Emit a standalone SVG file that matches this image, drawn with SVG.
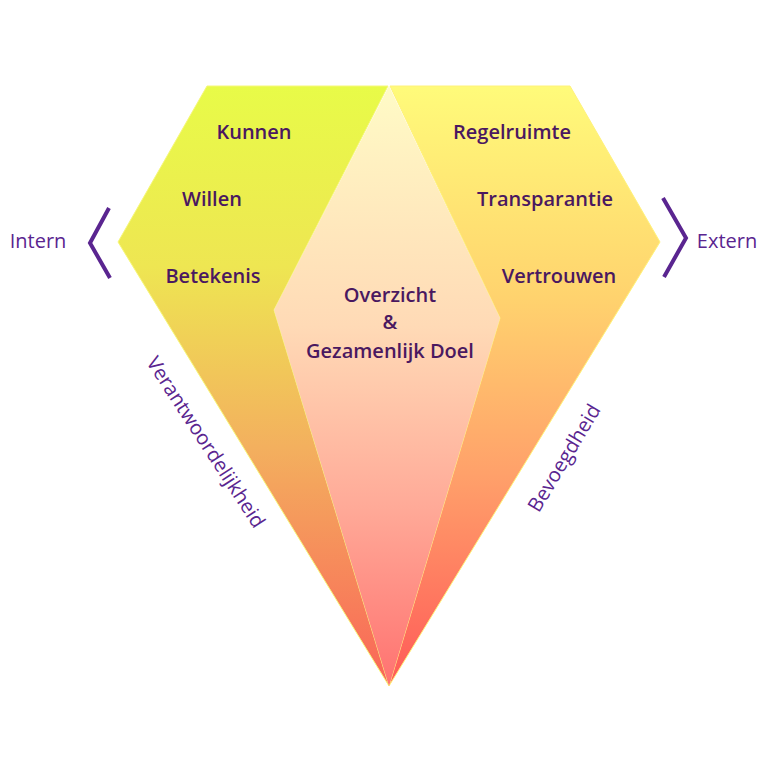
<svg xmlns="http://www.w3.org/2000/svg" width="768" height="768" viewBox="0 0 768 768">
<defs>
<linearGradient id="gl" x1="0" y1="86" x2="0" y2="686" gradientUnits="userSpaceOnUse">
<stop offset="0" stop-color="#e8fb48"/>
<stop offset="0.3" stop-color="#eee652"/>
<stop offset="0.6" stop-color="#f3b05e"/>
<stop offset="1" stop-color="#fa6458"/>
</linearGradient>
<linearGradient id="gr" x1="0" y1="86" x2="0" y2="686" gradientUnits="userSpaceOnUse">
<stop offset="0" stop-color="#fffb7a"/>
<stop offset="0.35" stop-color="#ffd36e"/>
<stop offset="0.65" stop-color="#ffa06a"/>
<stop offset="1" stop-color="#ff5a58"/>
</linearGradient>
<linearGradient id="gc" x1="0" y1="86" x2="0" y2="686" gradientUnits="userSpaceOnUse">
<stop offset="0" stop-color="#fffbc6"/>
<stop offset="0.4" stop-color="#ffdab6"/>
<stop offset="0.7" stop-color="#ffaa98"/>
<stop offset="1" stop-color="#ff7270"/>
</linearGradient>
<style>
.lbl{font-family:"Open Sans",Lato,sans-serif;font-size:20px;font-weight:600;fill:#4a1860;text-anchor:middle}
.side{font-family:"Open Sans",Lato,sans-serif;font-size:20px;fill:#5a2590;text-anchor:middle}
.br{fill:none;stroke:#5a2590;stroke-width:4}
</style>
</defs>
<g id="left-facet">
<polygon points="207,86 388,86 274,310 389,686 118,242" fill="url(#gl)" stroke="#f6f77a" stroke-width="1"/>
<text class="lbl" x="254" y="139">Kunnen</text>
<text class="lbl" x="212" y="206">Willen</text>
<text class="lbl" x="213" y="283">Betekenis</text>
</g>
<g id="right-facet">
<polygon points="390,86 570,86 660,242 389,686 500,318" fill="url(#gr)" stroke="#fff27a" stroke-width="1"/>
<text class="lbl" x="512" y="139">Regelruimte</text>
<text class="lbl" x="545" y="206">Transparantie</text>
<text class="lbl" x="559" y="283">Vertrouwen</text>
</g>
<g id="center-facet">
<polygon points="389,86 500,318 389,686 274,310" fill="url(#gc)"/>
<text class="lbl" x="390" y="302">Overzicht</text>
<text class="lbl" x="390" y="329">&amp;</text>
<text class="lbl" x="390" y="358">Gezamenlijk Doel</text>
</g>
<g id="intern">
<polyline class="br" points="109,208 90,243 110,278"/>
<text class="side" x="38" y="248">Intern</text>
</g>
<g id="extern">
<polyline class="br" points="663,198 686,238 664,277"/>
<text class="side" x="727" y="248">Extern</text>
</g>
<g id="verantwoordelijkheid">
<text class="side" transform="translate(206,442) rotate(57)" y="7" font-size="21">Verantwoordelijkheid</text>
</g>
<g id="bevoegdheid">
<text class="side" transform="translate(564,458) rotate(-59)" y="7" font-size="21">Bevoegdheid</text>
</g>
</svg>
